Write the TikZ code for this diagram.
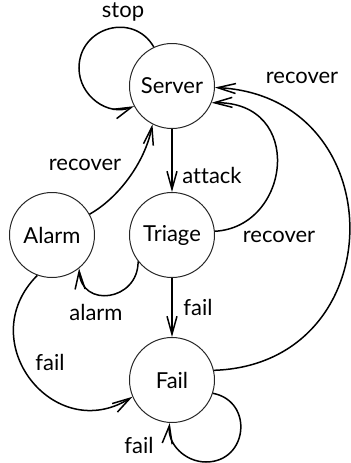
\documentclass[tikz,border=0pt]{standalone}
\usepackage{fontspec}
\setmainfont{Lato}[Ligatures={NoCommon,NoDiscretionary}]
\usetikzlibrary{arrows.meta}
\begin{document}
\begin{tikzpicture}[x=0.5pt,y=0.5pt,
  state/.style={circle,draw=black!85,line width=0.5pt,minimum size=42.5pt,inner sep=0pt,font=\fontsize{11}{13}\selectfont},
  edge/.style={line width=0.75pt,-{Straight Barb[length=9pt,width=5pt]}},
  lbl/.style={font=\fontsize{11}{13}\selectfont,inner sep=0pt}]
\useasboundingbox (0,0) rectangle (351,463);
\node[state] (server) at (172,377) {Server};
\node[state] (triage) at (172,228) {Triage};
\node[state] (alarm) at (52,228) {Alarm};
\node[state] (fail) at (172,83) {Fail};
\coordinate (stopmid) at (79,395);
\coordinate (failmid) at (206,1);
% edges
\draw[edge] (server.115) .. controls +(120:41) and +(90:41) .. (stopmid)
            .. controls +(270:28) and +(202:28) .. (server.208);
\draw[edge] (server.south) -- (triage.north);
\draw[edge] (triage.5) .. controls +(76,4) and +(94,2) .. (server.337);
\draw[edge] (alarm.29) .. controls +(27,15) and +(-8,-40) .. (server.243);
\draw[edge] (triage.218) .. controls +(0,-40) and +(2,-40) .. (alarm.309);
\draw[edge] (triage.south) -- (fail.north);
\draw[edge] (alarm.250) .. controls +(-65.6,-65.6) and +(-78.7,-49.2) .. (fail.203);
\draw[edge] (fail.13) .. controls +(180,6) and +(180,-9) .. (server.358);
\draw[edge] (fail.342) .. controls +(-11:42) and +(0:42) .. (failmid)
            .. controls +(180:21) and +(263:21) .. (fail.267);
% labels
\node[lbl] (lstop) at (123,451) {stop};
\node[lbl] (lattack) at (212,288) {attack};
\node[lbl] (lrecr) at (279,226) {recover};
\node[lbl] (lrecl) at (85,298) {recover};
\node[lbl] (lrecfr) at (302,385) {recover};
\node[lbl] (lalarm) at (96,151) {alarm};
\node[lbl] (lfail1) at (198,156) {fail};
\node[lbl] (lfail2) at (50,101) {fail};
\node[lbl] (lfail3) at (139,18) {fail};
\end{tikzpicture}
\end{document}
